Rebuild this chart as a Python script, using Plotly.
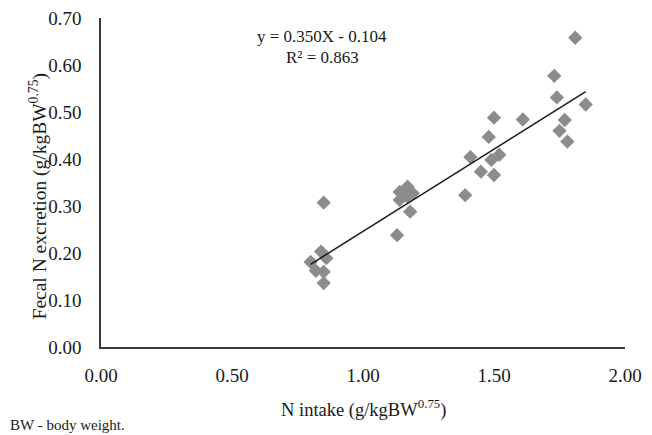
import plotly.graph_objects as go

# Data
n_intake = [1.81, 1.73, 1.74, 1.85, 1.50, 1.61, 1.77, 1.75, 1.78, 1.48,
            1.41, 1.52, 1.49, 1.45, 1.50, 1.39, 1.17, 1.14, 1.19, 1.14,
            1.17, 1.18, 1.13, 0.85, 0.84, 0.80, 0.86, 0.82, 0.85, 0.85]
fecal_n = [0.658, 0.577, 0.531, 0.516, 0.488, 0.484, 0.483, 0.460, 0.437, 0.447,
           0.404, 0.409, 0.398, 0.373, 0.366, 0.323, 0.341, 0.330, 0.327, 0.313,
           0.320, 0.288, 0.238, 0.307, 0.203, 0.181, 0.189, 0.162, 0.160, 0.136]

slope = 0.350
intercept = -0.104
r2 = 0.863

x_ticks = [0.0, 0.5, 1.0, 1.5, 2.0]
y_ticks = [0.0, 0.1, 0.2, 0.3, 0.4, 0.5, 0.6, 0.7]

font_family = "Liberation Serif, Times New Roman, serif"

fig = go.Figure()
fig.add_trace(go.Scatter(
    x=n_intake, y=fecal_n, mode="markers",
    marker=dict(symbol="diamond", size=11, color="#8c8c8c", line=dict(width=0)),
    showlegend=False, hoverinfo="x+y"))

x0, x1 = min(n_intake), max(n_intake)
fig.add_trace(go.Scatter(
    x=[x0, x1], y=[slope * x0 + intercept, slope * x1 + intercept],
    mode="lines", line=dict(color="#1a1a1a", width=1.5),
    showlegend=False, hoverinfo="skip"))

fig.update_layout(
    width=644, height=427,
    margin=dict(l=93, r=27, t=10, b=88),
    paper_bgcolor="white", plot_bgcolor="white",
    font=dict(family=font_family, size=18.5, color="#1a1a1a"),
    xaxis=dict(range=[0, 2], tickvals=x_ticks, ticktext=[f"{v:.2f}" for v in x_ticks],
               showgrid=False, zeroline=False, showline=True, linecolor="#3a3a3a",
               linewidth=1.5, ticks="", ticklabelstandoff=10, tickfont=dict(size=19),
               automargin=False, ticklabeloverflow="allow"),
    yaxis=dict(range=[0, 0.7], tickvals=y_ticks, ticktext=[f"{v:.2f}" for v in y_ticks],
               showgrid=False, zeroline=False, showline=True, linecolor="#3a3a3a",
               linewidth=1.5, ticks="", ticklabelstandoff=14, tickfont=dict(size=19),
               automargin=False, ticklabeloverflow="allow"),
    annotations=[
        dict(x=0.844, y=0.66, xref="x", yref="y", showarrow=False,
             text=f"y = {slope:.3f}X - {abs(intercept):.3f}", font=dict(size=17)),
        dict(x=0.844, y=0.617, xref="x", yref="y", showarrow=False,
             text=f"R² = {r2:.3f}", font=dict(size=17)),
        dict(x=0.5, y=-0.188, xref="paper", yref="paper", showarrow=False,
             text="N intake (g/kgBW<sup>0.75</sup>)", yanchor="middle"),
        dict(x=-0.12, y=0.458, xref="paper", yref="paper", showarrow=False,
             text="Fecal N excretion (g/kgBW<sup>0.75</sup>)", textangle=-90,
             xanchor="center", yanchor="middle", font=dict(size=19.5)),
        dict(x=-0.1775, y=-0.237, xref="paper", yref="paper", showarrow=False,
             text="BW - body weight.", xanchor="left", yanchor="middle",
             font=dict(size=15)),
    ],
)

fig.write_html("out.html")
